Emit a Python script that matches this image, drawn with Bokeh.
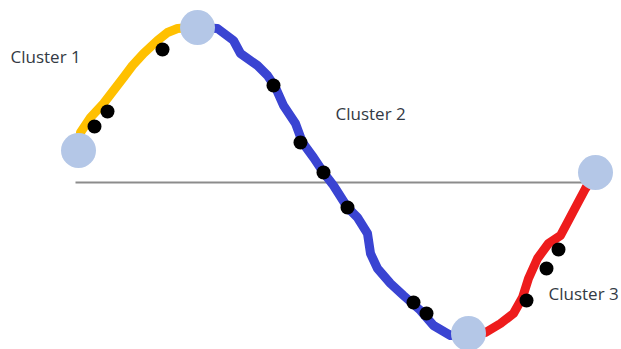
from bokeh.plotting import figure
from bokeh.models import Range1d
from bokeh.embed import file_html
from bokeh.resources import INLINE
from bokeh.core.properties import value

# Cluster 1 (yellow) path
c1_x = [78, 80, 90, 103, 113, 123, 132, 143, 157, 167, 177, 190, 197]
c1_y = [150, 132, 117, 103, 90, 77, 65, 53, 40, 32, 28, 27, 27]

# Cluster 2 (blue) path
c2_x = [197, 217, 233, 240, 257, 267, 275, 283, 295, 302, 313, 323, 333, 347, 357, 367,
        370, 377, 390, 403, 420, 433, 450, 467]
c2_y = [27, 28, 40, 53, 65, 75, 87, 105, 123, 142, 157, 172, 185, 207, 217, 233,
        253, 268, 283, 295, 310, 325, 335, 333]

# Cluster 3 (red) path
c3_x = [467, 485, 500, 513, 522, 528, 537, 548, 560, 568, 577, 585, 595]
c3_y = [333, 332, 323, 313, 297, 278, 258, 243, 235, 220, 203, 188, 172]

# sample points
pts_x = [94, 107, 162, 273, 300, 323, 347, 413, 426, 526, 546, 558]
pts_y = [126, 111, 49, 85, 142, 172, 207, 302, 313, 300, 268, 249]

# cluster boundary centres
ctr_x = [78, 197, 468, 595]
ctr_y = [150, 27, 333, 172]

# baseline
base_x = [75, 590]
base_y = [182, 182]

labels = ["Cluster 1", "Cluster 2", "Cluster 3"]
label_x = [10, 335, 548]
label_y = [56, 113, 293]

p = figure(width=621, height=349, output_backend="svg", toolbar_location=None,
           x_range=Range1d(0, 621), y_range=Range1d(349, 0), min_border=0)
p.axis.visible = False
p.grid.visible = False
p.outline_line_color = None
p.background_fill_color = "white"
p.border_fill_color = "white"

p.line(base_x, base_y, line_color="#8c8c8c", line_width=2)
p.line(c1_x + c2_x[1:] + c3_x[1:], c1_y + c2_y[1:] + c3_y[1:], line_color="#9a9a9a", line_width=2)
p.line(c1_x, c1_y, line_color="#FFC000", line_width=9, line_join="round", line_cap="round")
p.line(c2_x, c2_y, line_color="#3A44D2", line_width=9, line_join="round", line_cap="round")
p.line(c3_x, c3_y, line_color="#EE1C1C", line_width=9, line_join="round", line_cap="round")
p.scatter(pts_x, pts_y, size=14, fill_color="black", line_color=None)
p.scatter(ctr_x, ctr_y, size=35, fill_color="#B4C7E7", line_color=None)
p.text(label_x, label_y, text=labels, text_font=value("Open Sans"), text_font_size="17px",
       text_color="#333a44", text_baseline="alphabetic", text_align="left")

open("out.html", "w").write(file_html(p, INLINE))
